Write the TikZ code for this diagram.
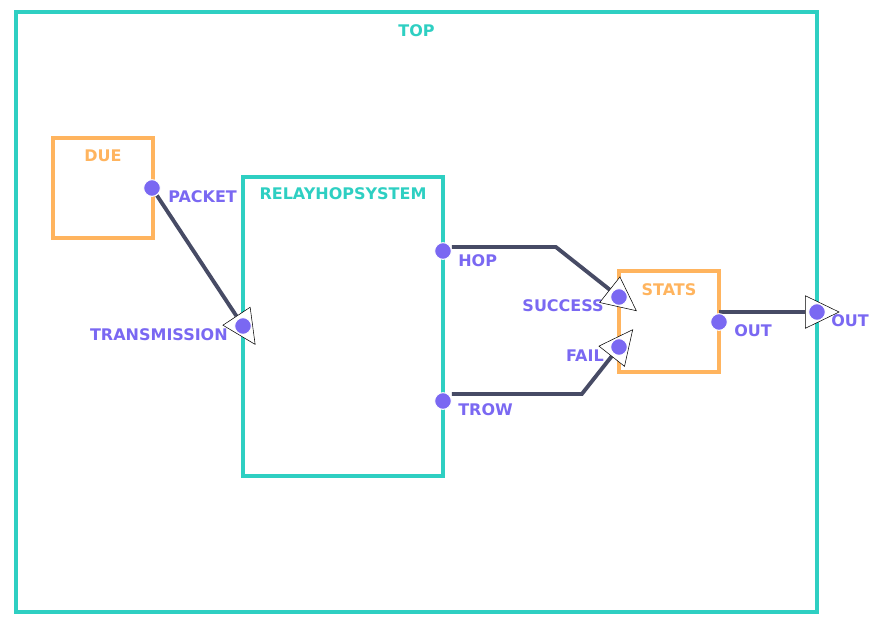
\documentclass[tikz,border=0pt]{standalone}
\usepackage{fontspec}
\setmainfont{DejaVu Sans}
\usetikzlibrary{positioning, arrows.meta}
\definecolor{topteal}{HTML}{2ECFC2}
\definecolor{dueorange}{HTML}{FFB45E}
\definecolor{portpurple}{HTML}{7A68F2}
\definecolor{wiregray}{HTML}{474B65}
\pgfdeclarelayer{front}
\pgfsetlayers{main,front}

\begin{document}
\begin{tikzpicture}[x=0.75pt, y=-0.75pt,
    every node/.style={font=\fontsize{12}{14}\selectfont\bfseries, inner sep=0pt},
    coupled/.style={draw=topteal, line width=3pt},
    atomic/.style={draw=dueorange, line width=3pt},
    port/.style={circle, fill=portpurple, draw=white, line width=0.75pt, minimum size=12.5pt},
    portname/.style={text=portpurple},
    wire/.style={draw=wiregray, line width=2.9pt, shorten >=-17pt,
        -{Triangle[length=26pt, width=25pt, color=black, fill=white, line width=0.4pt]}}]
        \useasboundingbox (0,0) rectangle (877,633);

        % Models
        \node[coupled, minimum width=600.75pt, minimum height=450pt] (top) at (416.5,312) {};
        \node[text=topteal, below=10.5pt of top.north] (toptitle) {TOP};
        \node[atomic, minimum width=75pt, minimum height=75pt] (due) at (103,188) {};
        \node[text=dueorange, below=10.5pt of due.north] (duetitle) {DUE};
        \node[coupled, minimum width=150pt, minimum height=224.25pt] (relay) at (343,326.5) {};
        \node[text=topteal, below=9.5pt of relay.north] (relaytitle) {RELAYHOPSYSTEM};
        \node[atomic, minimum width=75pt, minimum height=75.75pt] (stats) at (669,321.5) {};
        \node[text=dueorange, below=11pt of stats.north] (statstitle) {STATS};

        % Ports
        \begin{pgfonlayer}{front}
        \node[port] (packet) at (152,188) {};
        \node[port] (transmission) at (243,326) {};
        \node[port] (hop) at (443,251) {};
        \node[port] (trow) at (443,401) {};
        \node[port] (success) at (619,297) {};
        \node[port] (fail) at (619,347) {};
        \node[port] (statsout) at (719,322) {};
        \node[port] (topout) at (817,312) {};
        \end{pgfonlayer}
        \node[portname, anchor=west] (packetname) at ([shift={(16,9)}]packet.center) {PACKET};
        \node[portname, anchor=east] (transmissionname) at ([shift={(-15,9)}]transmission.center) {TRANSMISSION};
        \node[portname, anchor=west] (hopname) at ([shift={(15,10)}]hop.center) {HOP};
        \node[portname, anchor=west] (trowname) at ([shift={(15,9)}]trow.center) {TROW};
        \node[portname, anchor=east] (successname) at ([shift={(-15,9)}]success.center) {SUCCESS};
        \node[portname, anchor=east] (failname) at ([shift={(-15,9)}]fail.center) {FAIL};
        \node[portname, anchor=west] (statsoutname) at ([shift={(15,9)}]statsout.center) {OUT};
        \node[portname, anchor=west] (topoutname) at ([shift={(14,9)}]topout.center) {OUT};

        % Couplings
        \draw[wire] (packet) -- (transmission.center);
        \draw[wire] ([yshift=3pt]hop.east) -- ++(104,0) -- (success.center);
        \draw[wire] ([yshift=5.25pt]trow.east) -- ++(130,0) -- (fail.center);
        \draw[wire] (statsout.center |- topout) -- (topout.center);
    \end{tikzpicture}
\end{document}
